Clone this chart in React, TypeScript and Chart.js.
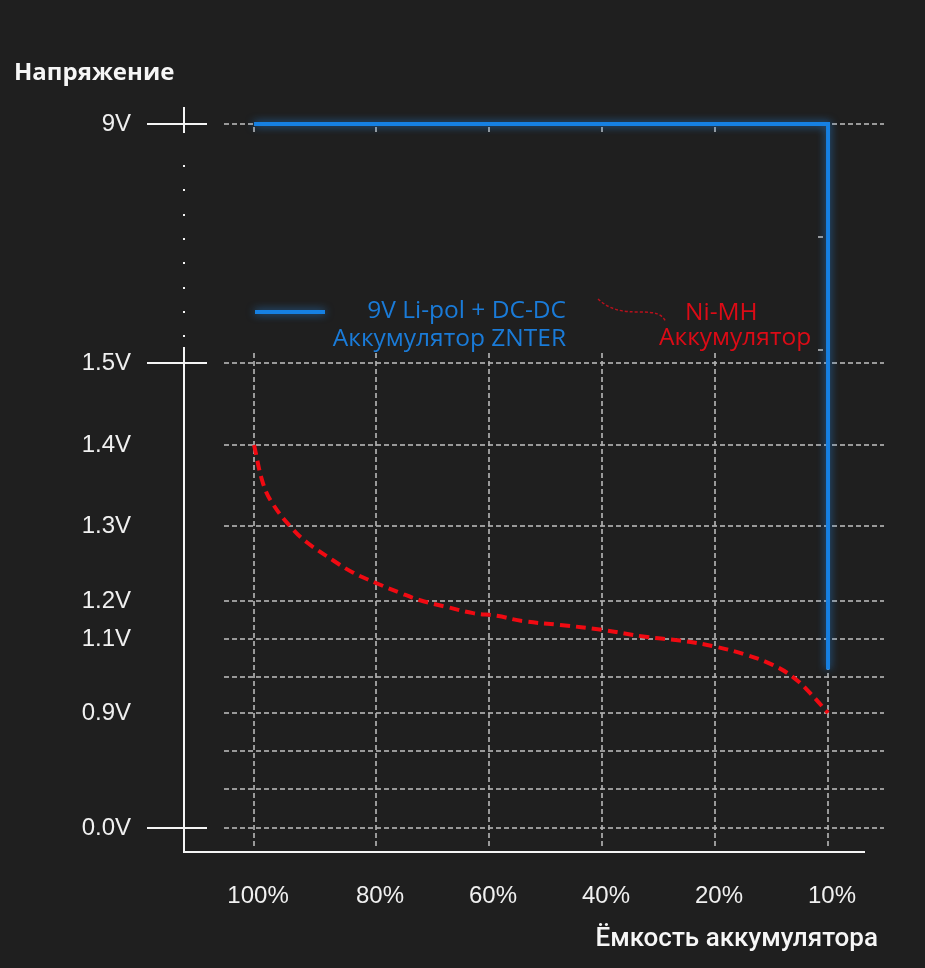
import React, { useEffect, useRef } from 'react';
import { Chart, registerables, LinearScale } from 'chart.js';

// ---------- data ----------
const capacityTicks = [100, 80, 60, 40, 20, 10];
const capacityLabels = ['100%', '80%', '60%', '40%', '20%', '10%'];
const voltageTicks = [0, 0.3, 0.6, 0.9, 1.0, 1.1, 1.2, 1.3, 1.4, 1.5, 9];
const voltageLabels = ['0.0V', '', '', '0.9V', '', '1.1V', '1.2V', '1.3V', '1.4V', '1.5V', '9V'];

const nimhCapacity = [100, 98.5, 96.9, 93.8, 91.3, 87, 83.8, 80, 75.8, 72.2, 67.4, 62.8, 58.6, 54, 47.4, 40, 32, 26.2, 20, 17.2, 14.9, 13.1, 11.6, 10];
const nimhVoltage = [1.4, 1.352, 1.327, 1.297, 1.278, 1.254, 1.238, 1.224, 1.211, 1.201, 1.184, 1.168, 1.161, 1.147, 1.137, 1.124, 1.105, 1.096, 1.08, 1.058, 1.032, 1.0, 0.956, 0.9];

const lipoCapacity = [100, 10, 10];
const lipoVoltage = [9, 9, 1.02];

const titleY = 'Напряжение';
const titleX = 'Ёмкость аккумулятора';
const legendBlue = ['9V Li-pol + DC-DC', 'Аккумулятор ZNTER'];
const legendRed = ['Ni-MH', 'Аккумулятор'];

// ---------- styles ----------
const BG = '#1f1f1f';
const GRID = 'rgba(175,175,175,0.85)';
const AXIS = '#f4f4f4';
const BLUE = '#1680e2';
const BLUE_GLOW = 'rgba(40,150,255,0.65)';
const RED = '#f00a12';
const TEXT_BLUE = '#1a7bd8';
const TEXT_RED = '#dc0b16';

// axis layout (fraction of axis length where each tick sits)
const AXIS_STOPS: Record<string, { values: number[]; pos: number[] }> = {
  x: { values: capacityTicks, pos: [0.0455, 0.2303, 0.4015, 0.5727, 0.7439, 0.9152] },
  y: { values: voltageTicks, pos: [0.0323, 0.0849, 0.1361, 0.1873, 0.2358, 0.2871, 0.3383, 0.4394, 0.5485, 0.659, 0.9811] },
};

function interp(v: number, xs: number[], ys: number[]): number {
  const pairs = xs.map((x, i) => [x, ys[i]]).sort((a, b) => a[0] - b[0]);
  const n = pairs.length;
  let i = 0;
  if (v <= pairs[0][0]) i = 0;
  else if (v >= pairs[n - 1][0]) i = n - 2;
  else {
    while (i < n - 2 && v > pairs[i + 1][0]) i++;
  }
  const [x0, y0] = pairs[i];
  const [x1, y1] = pairs[i + 1];
  return y0 + ((v - x0) / (x1 - x0)) * (y1 - y0);
}

class PiecewiseScale extends LinearScale {
  static id = 'piecewise';
  static defaults = LinearScale.defaults;
  buildTicks() {
    const s = AXIS_STOPS[(this as any).id];
    return s.values.map((v) => ({ value: v }));
  }
  getPixelForValue(value: number) {
    const s = AXIS_STOPS[(this as any).id];
    return this.getPixelForDecimal(interp(value, s.values, s.pos));
  }
  getValueForPixel(pixel: number) {
    const s = AXIS_STOPS[(this as any).id];
    return interp(this.getDecimalForPixel(pixel), s.pos, s.values);
  }
}

Chart.register(...registerables, PiecewiseScale as any);

function line(ctx: CanvasRenderingContext2D, x1: number, y1: number, x2: number, y2: number) {
  ctx.beginPath();
  ctx.moveTo(x1, y1);
  ctx.lineTo(x2, y2);
  ctx.stroke();
}

const decorPlugin = {
  id: 'decor',
  beforeDraw(chart: any) {
    const { ctx, width, height } = chart;
    ctx.save();
    ctx.fillStyle = BG;
    ctx.fillRect(0, 0, width, height);
    ctx.restore();
  },
  beforeDatasetsDraw(chart: any) {
    const { ctx, chartArea: a, scales } = chart;
    const x = scales.x;
    const y = scales.y;
    const yTop = Math.round(y.getPixelForValue(9));
    const y15 = Math.round(y.getPixelForValue(1.5));
    ctx.save();
    // dashed grid
    ctx.strokeStyle = GRID;
    ctx.lineWidth = 2;
    ctx.setLineDash([5, 3]);
    voltageTicks.forEach((v) => {
      const py = Math.round(y.getPixelForValue(v));
      line(ctx, a.left, py, a.right, py);
    });
    capacityTicks.forEach((c) => {
      const px = Math.round(x.getPixelForValue(c));
      line(ctx, px, y15 - 10, px, a.bottom - 3);
    });
    ctx.setLineDash([]);
    // small stubs under the top line
    capacityTicks.forEach((c) => {
      const px = Math.round(x.getPixelForValue(c));
      line(ctx, px, yTop + 3, px, yTop + 8);
    });
    const pr = Math.round(x.getPixelForValue(10));
    line(ctx, pr - 10, Math.round(yTop + (y15 - yTop) * 0.473), pr - 5, Math.round(yTop + (y15 - yTop) * 0.473));
    line(ctx, pr - 10, y15 - 13, pr - 5, y15 - 13);

    // white axes
    ctx.strokeStyle = AXIS;
    ctx.lineWidth = 2;
    const ax = a.left - 40;
    line(ctx, ax, y15 - 16, ax, a.bottom);
    line(ctx, ax - 1, a.bottom, a.right - 19, a.bottom);
    line(ctx, ax, yTop - 17, ax, yTop + 9);
    [9, 1.5, 0].forEach((v) => {
      const py = Math.round(y.getPixelForValue(v));
      line(ctx, ax - 37, py, ax + 23, py);
    });
    // dotted break between 9V and 1.5V
    ctx.fillStyle = AXIS;
    for (let k = 0; k < 8; k++) {
      const py = Math.round(yTop + 42 + k * 24.3);
      ctx.fillRect(ax - 1, py - 1, 2, 2);
    }
    ctx.restore();
  },
  beforeDatasetDraw(chart: any, args: any) {
    if (args.index === 0) {
      const ctx = chart.ctx;
      ctx.save();
      ctx.shadowColor = BLUE_GLOW;
      ctx.shadowBlur = 9;
    }
  },
  afterDatasetDraw(chart: any, args: any) {
    if (args.index === 0) chart.ctx.restore();
  },
  afterDatasetsDraw(chart: any) {
    const { ctx } = chart;
    ctx.save();
    // legend: blue sample line
    ctx.shadowColor = BLUE_GLOW;
    ctx.shadowBlur = 8;
    ctx.strokeStyle = BLUE;
    ctx.lineWidth = 4;
    line(ctx, 255, 312, 325, 312);
    ctx.shadowBlur = 0;
    ctx.shadowColor = 'transparent';
    // legend: red wavy dashed sample
    ctx.strokeStyle = '#b8101c';
    ctx.lineWidth = 1.5;
    ctx.setLineDash([3, 2]);
    ctx.beginPath();
    ctx.moveTo(598, 299);
    ctx.bezierCurveTo(610, 310, 622, 312, 640, 312);
    ctx.bezierCurveTo(656, 312, 662, 314, 666, 322);
    ctx.stroke();
    ctx.setLineDash([]);

    // legend texts
    ctx.font = '24.5px "Open Sans", "Noto Sans", sans-serif';
    ctx.textBaseline = 'alphabetic';
    ctx.fillStyle = TEXT_BLUE;
    ctx.textAlign = 'right';
    ctx.fillText(legendBlue[0], 566, 318);
    ctx.fillText(legendBlue[1], 566, 346);
    ctx.fillStyle = TEXT_RED;
    ctx.textAlign = 'left';
    ctx.fillText(legendRed[0], 685, 320);
    ctx.fillText(legendRed[1], 659, 345);

    // titles
    ctx.fillStyle = '#f6f6f6';
    ctx.textAlign = 'left';
    ctx.font = 'bold 24px "Open Sans", "Noto Sans", sans-serif';
    ctx.fillText(titleY, 14, 80);
    ctx.textAlign = 'right';
    ctx.font = '500 26px Roboto, "Liberation Sans", sans-serif';
    ctx.fillText(titleX, 878, 946);
    ctx.restore();
  },
};

export default function App() {
  const ref = useRef<HTMLCanvasElement | null>(null);
  useEffect(() => {
    if (!ref.current) return;
    const chart = new Chart(ref.current, {
      type: 'line',
      data: {
        datasets: [
          {
            label: '9V Li-pol + DC-DC Аккумулятор ZNTER',
            data: lipoCapacity.map((c, i) => ({ x: c, y: lipoVoltage[i] })),
            borderColor: BLUE,
            borderWidth: 4,
            pointRadius: 0,
            tension: 0,
            borderJoinStyle: 'miter',
            fill: false,
          },
          {
            label: 'Ni-MH Аккумулятор',
            data: nimhCapacity.map((c, i) => ({ x: c, y: nimhVoltage[i] })),
            borderColor: RED,
            borderWidth: 4,
            borderDash: [10, 6],
            pointRadius: 0,
            tension: 0.4,
            fill: false,
          },
        ],
      },
      options: {
        responsive: false,
        animation: false,
        devicePixelRatio: 1,
        events: [],
        layout: { padding: { top: 110, right: 41, left: 0, bottom: 0 } },
        plugins: { legend: { display: false }, tooltip: { enabled: false }, title: { display: false } },
        scales: {
          x: {
            type: 'piecewise' as any,
            min: 5,
            max: 105,
            grid: { display: false, drawTicks: false },
            border: { display: false },
            ticks: {
              autoSkip: false,
              maxRotation: 0,
              minRotation: 0,
              padding: 30,
              labelOffset: 4,
              color: '#f0f0f0',
              font: { family: '"Liberation Sans", Arial, sans-serif', size: 24 },
              callback: (_v: any, i: number) => capacityLabels[i],
            },
            afterFit: (s: any) => {
              s.height = 116;
            },
          },
          y: {
            type: 'piecewise' as any,
            min: -0.2,
            max: 9.3,
            grid: { display: false, drawTicks: false },
            border: { display: false },
            ticks: {
              autoSkip: false,
              padding: 93,
              color: '#f0f0f0',
              font: { family: '"Liberation Sans", Arial, sans-serif', size: 24 },
              callback: (_v: any, i: number) => voltageLabels[i],
            },
            afterFit: (s: any) => {
              s.width = 224;
            },
          },
        },
      } as any,
      plugins: [decorPlugin],
    });
    return () => chart.destroy();
  }, []);
  return (
    <div style={{ position: 'fixed', left: 0, top: 0, width: 925, height: 968, background: BG }}>
      <canvas ref={ref} width={925} height={968} style={{ display: 'block' }} />
    </div>
  );
}
